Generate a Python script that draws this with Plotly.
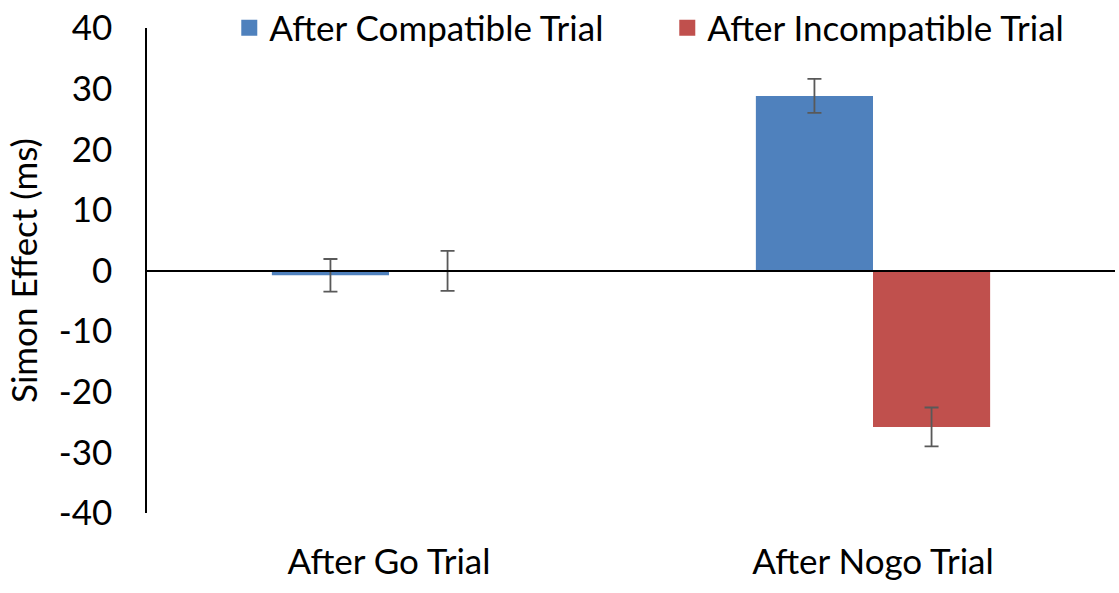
import plotly.graph_objects as go

categories = ["After Go Trial", "After Nogo Trial"]
series_names = ["After Compatible Trial", "After Incompatible Trial"]
compatible_vals = [-0.8, 28.8]
compatible_err = [2.7, 2.8]
incompatible_vals = [-0.05, -25.8]
incompatible_err = [3.3, 3.2]
y_ticks = [-40, -30, -20, -10, 0, 10, 20, 30, 40]

FONT = "Lato"
FS = 35
colors = ["#4F81BD", "#C0504D"]

fig = go.Figure()
for name, vals, errs, col in [
    (series_names[0], compatible_vals, compatible_err, colors[0]),
    (series_names[1], incompatible_vals, incompatible_err, colors[1]),
]:
    fig.add_trace(go.Bar(
        x=categories, y=vals, name=name, showlegend=False,
        marker=dict(color=col, line=dict(width=0)),
        error_y=dict(type="data", array=errs, visible=True,
                     color="#595959", thickness=1.8, width=7),
    ))
    # legend swatch (larger square than the default bar icon)
    fig.add_trace(go.Scatter(
        x=[None], y=[None], mode="markers", name=name,
        marker=dict(symbol="square", size=20, color=col),
    ))

fig.update_layout(
    width=1119, height=593,
    margin=dict(l=147, r=4, t=28, b=80, autoexpand=False),
    paper_bgcolor="white", plot_bgcolor="white",
    barmode="group", bargap=0.516, bargroupgap=0,
    font=dict(family=FONT, size=FS, color="black"),
    showlegend=True,
    legend=dict(orientation="h", x=0.085, xanchor="left", y=1.0, yanchor="middle",
                font=dict(size=FS), itemwidth=30, entrywidth=393,
                bgcolor="rgba(0,0,0,0)", borderwidth=0),
    xaxis=dict(showline=False, showgrid=False, ticks="", ticklabelstandoff=25,
               tickfont=dict(size=FS)),
    yaxis=dict(range=[-40, 40], tickvals=y_ticks, ticktext=[str(v) for v in y_ticks],
               showgrid=False,
               showline=True, linecolor="black", linewidth=1.5,
               zeroline=True, zerolinecolor="black", zerolinewidth=1.5,
               zerolinelayer="above traces", ticklabeloverflow="allow",
               ticks="", ticklabelstandoff=26, tickfont=dict(size=FS),
               title=dict(text="Simon Effect (ms)", font=dict(size=FS), standoff=10)),
)

fig.write_html("out.html",
               config={"displayModeBar": False},
               post_script="document.body.style.margin='0';document.body.style.overflow='hidden';")
